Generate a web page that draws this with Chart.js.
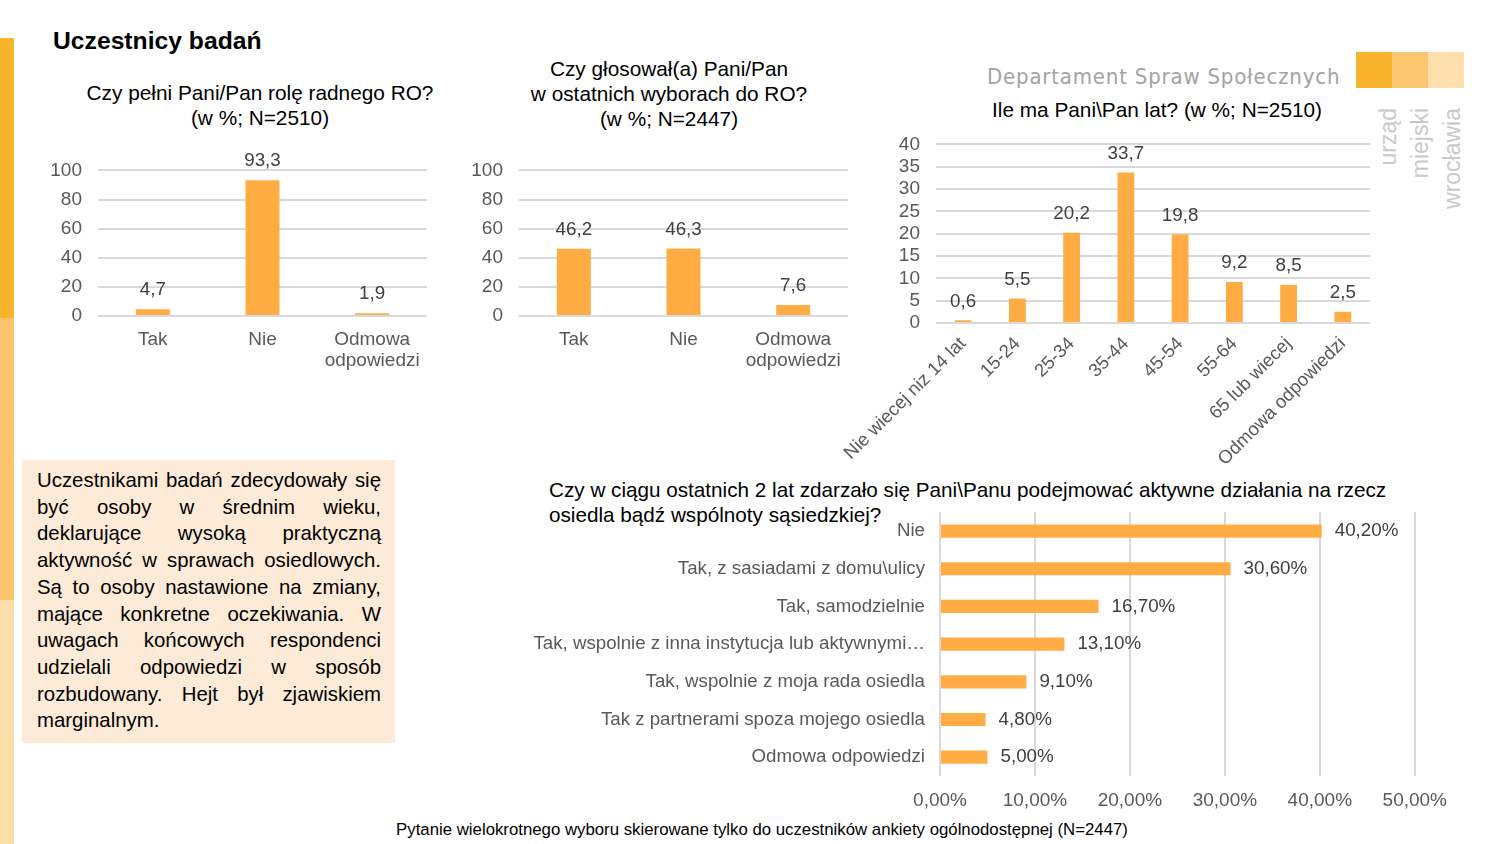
<!DOCTYPE html>
<html lang="pl">
<head>
<meta charset="utf-8">
<title>Uczestnicy badań</title>
<script src="https://cdn.jsdelivr.net/npm/chart.js@4/dist/chart.umd.min.js"></script>
<style>
  body { margin: 0; width: 1500px; height: 844px; background: #fff; position: relative; overflow: hidden;
         font-family: "Liberation Sans", Arial, sans-serif; color: #000; }
  .abs { position: absolute; }
  .stripe { left: 0; width: 14px; }
  .title { text-align: center; font-size: 20.8px; line-height: 25px; white-space: nowrap; }
  .box { left: 22px; top: 460px; width: 373px; height: 283px; background: #FDEAD7; }
  .box .txt { position: absolute; left: 15px; top: 7px; width: 344px; font-size: 20.4px; line-height: 26.7px; }
  .box .ln { text-align: justify; text-align-last: justify; white-space: nowrap; }
  .box .ln.last { text-align-last: left; }
  .chartbox { position: absolute; }
</style>
</head>
<body>
<div class="abs stripe" style="top:38px;height:280px;background:#F8B42C"></div>
<div class="abs stripe" style="top:318px;height:282px;background:#FCC56C"></div>
<div class="abs stripe" style="top:600px;height:244px;background:#FFDEAA"></div>

<div class="abs" style="left:53px;top:27px;font-size:24.7px;font-weight:bold;white-space:nowrap">Uczestnicy badań</div>

<div class="abs" style="left:987px;top:64px;font-family:'DejaVu Sans Condensed','DejaVu Sans',sans-serif;font-size:22px;color:#a3a3a3;letter-spacing:0.8px;white-space:nowrap">Departament Spraw Społecznych</div>
<div class="abs" style="left:1356px;top:52px;width:36px;height:36px;background:#F8B42C"></div>
<div class="abs" style="left:1392px;top:52px;width:36px;height:36px;background:#FBC670"></div>
<div class="abs" style="left:1428px;top:52px;width:36px;height:36px;background:#FFDFAE"></div>
<div class="abs" style="left:1372px;top:212px;width:104px;transform:rotate(-90deg);transform-origin:0 0;text-align:right;font-size:23px;line-height:32px;color:#c9c9c9">urząd<br>miejski<br>wrocławia</div>

<div class="abs title" style="left:60px;width:400px;top:80px">Czy pełni Pani/Pan rolę radnego RO?<br>(w %; N=2510)</div>
<div class="abs title" style="left:469px;width:400px;top:56px">Czy głosował(a) Pani/Pan<br>w ostatnich wyborach do RO?<br>(w %; N=2447)</div>
<div class="abs title" style="left:957px;width:400px;top:97px">Ile ma Pani\Pan lat? (w %; N=2510)</div>
<div class="abs" style="left:549px;top:477px;font-size:20.7px;line-height:25px;white-space:nowrap">Czy w ciągu ostatnich 2 lat zdarzało się Pani\Panu podejmować aktywne działania na rzecz<br>osiedla bądź wspólnoty sąsiedzkiej?</div>

<div class="abs box">
  <div class="txt">
    <div class="ln">Uczestnikami badań zdecydowały się</div>
    <div class="ln">być osoby w średnim wieku,</div>
    <div class="ln">deklarujące wysoką praktyczną</div>
    <div class="ln">aktywność w sprawach osiedlowych.</div>
    <div class="ln">Są to osoby nastawione na zmiany,</div>
    <div class="ln">mające konkretne oczekiwania. W</div>
    <div class="ln">uwagach końcowych respondenci</div>
    <div class="ln">udzielali odpowiedzi w sposób</div>
    <div class="ln">rozbudowany. Hejt był zjawiskiem</div>
    <div class="ln last">marginalnym.</div>
  </div>
</div>

<div class="abs" style="left:262px;width:1000px;top:820px;text-align:center;font-size:16.8px;white-space:nowrap">Pytanie wielokrotnego wyboru skierowane tylko do uczestników ankiety ogólnodostępnej (N=2447)</div>

<div class="chartbox" style="left:40px;top:143px;width:400px;height:237px"><canvas id="c1"></canvas></div>
<div class="chartbox" style="left:461px;top:143px;width:400px;height:237px"><canvas id="c2"></canvas></div>
<div class="chartbox" style="left:820px;top:117px;width:560px;height:353px"><canvas id="c3"></canvas></div>
<div class="chartbox" style="left:520px;top:494px;width:940px;height:326px"><canvas id="c4"></canvas></div>

<script>
const answerCats = ['Tak', 'Nie', ['Odmowa', 'odpowiedzi']];
const councillorValues = [4.7, 93.3, 1.9];
const votedValues = [46.2, 46.3, 7.6];

const ageCats = ['Nie wiecej niz 14 lat', '15-24', '25-34', '35-44', '45-54', '55-64', '65 lub wiecej', 'Odmowa odpowiedzi'];
const ageValues = [0.6, 5.5, 20.2, 33.7, 19.8, 9.2, 8.5, 2.5];

const activityCats = ['Nie', 'Tak, z sasiadami z domu\\ulicy', 'Tak, samodzielnie', 'Tak, wspolnie z inna instytucja lub aktywnymi…',
  'Tak, wspolnie z moja rada osiedla', 'Tak z partnerami spoza mojego osiedla', 'Odmowa odpowiedzi'];
const activityValues = [40.2, 30.6, 16.7, 13.1, 9.1, 4.8, 5.0];

const BAR = '#FFAC45';
const TICK = '#595959';
const GRID = '#D9D9D9';
const FONT = '"Liberation Sans", Arial, sans-serif';

Chart.defaults.font.family = FONT;
Chart.defaults.animation = false;

const comma = (v, d) => v.toFixed(d).replace('.', ',');

// value labels above / beside the bars
const barLabels = {
  id: 'barLabels',
  afterDatasetsDraw(chart) {
    const ctx = chart.ctx;
    const meta = chart.getDatasetMeta(0);
    const data = chart.data.datasets[0].data;
    ctx.save();
    ctx.fillStyle = '#404040';
    ctx.font = '18.8px ' + FONT;
    ctx.textBaseline = 'middle';
    meta.data.forEach((el, i) => {
      if (chart.options.indexAxis === 'y') {
        ctx.textAlign = 'left';
        ctx.fillText(comma(data[i], 2) + '%', el.x + 13, el.y);
      } else {
        ctx.textAlign = 'center';
        ctx.fillText(comma(data[i], 1), el.x, el.y - 19);
      }
    });
    ctx.restore();
  }
};

function columnChart(id, labels, values, max, step, yWidth, xHeight, pad, rotate) {
  new Chart(document.getElementById(id), {
    type: 'bar',
    data: {
      labels: labels,
      datasets: [{ data: values, backgroundColor: BAR, categoryPercentage: 1, barPercentage: 0.31 }]
    },
    options: {
      responsive: true,
      maintainAspectRatio: false,
      layout: { padding: pad },
      plugins: { legend: { display: false }, tooltip: { enabled: false } },
      scales: {
        x: {
          grid: { display: false },
          border: { display: false },
          ticks: rotate
            ? { color: TICK, font: { size: 18.5 }, minRotation: 45, maxRotation: 45, padding: 2 }
            : { color: TICK, font: { size: 19, lineHeight: 1.1 }, padding: 5 },
          afterFit: s => { s.height = xHeight; }
        },
        y: {
          min: 0, max: max,
          ticks: { stepSize: step, autoSkip: false, color: TICK, font: { size: 19 }, padding: 16 },
          grid: { color: GRID, lineWidth: 2, drawTicks: false },
          border: { display: false },
          afterFit: s => { s.width = yWidth; }
        }
      }
    },
    plugins: [barLabels]
  });
}

columnChart('c1', answerCats, councillorValues, 100, 20, 58, 64, { top: 0, right: 13 }, false);
columnChart('c2', answerCats, votedValues, 100, 20, 58, 64, { top: 0, right: 13 }, false);
columnChart('c3', ageCats, ageValues, 40, 5, 116, 147, { top: 0, right: 10 }, true);

new Chart(document.getElementById('c4'), {
  type: 'bar',
  data: {
    labels: activityCats,
    datasets: [{ data: activityValues, backgroundColor: BAR, categoryPercentage: 1, barPercentage: 0.35 }]
  },
  options: {
    indexAxis: 'y',
    responsive: true,
    maintainAspectRatio: false,
    layout: { padding: { top: 0, right: 44 } },
    plugins: { legend: { display: false }, tooltip: { enabled: false } },
    scales: {
      x: {
        min: 0, max: 50,
        ticks: { stepSize: 10, color: TICK, font: { size: 19 }, padding: 13, callback: v => comma(v, 2) + '%' },
        grid: { color: GRID, lineWidth: 2, drawTicks: false },
        border: { display: false },
        afterFit: s => { s.height = 44; }
      },
      y: {
        grid: { display: false },
        border: { display: false },
        ticks: { color: TICK, font: { size: 18.7 }, padding: 7 },
        afterFit: s => { s.width = 420; }
      }
    }
  },
  plugins: [barLabels]
});
</script>
</body>
</html>
